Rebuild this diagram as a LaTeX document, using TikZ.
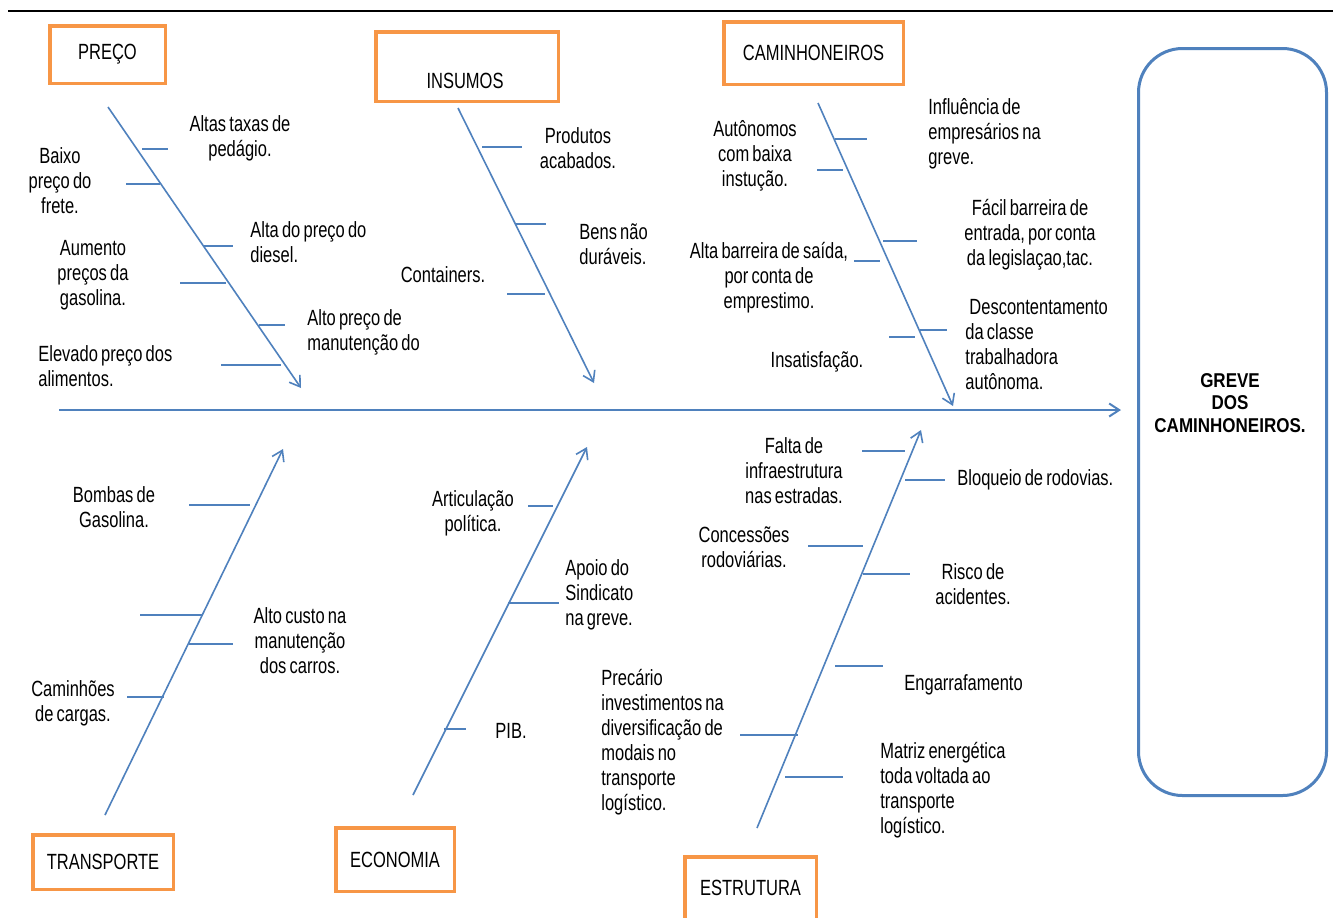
\documentclass[tikz,border=0pt]{standalone}
\usepackage{fontspec}
\setmainfont{Liberation Sans}[FakeStretch=0.75,WordSpace=0.7]
\newfontfamily\grevefont{Liberation Sans}[FakeStretch=0.85]
\usetikzlibrary{arrows.meta}
\definecolor{catorange}{HTML}{F79646}
\definecolor{boneblue}{HTML}{4F81BD}
\newcommand\lblfont{\fontsize{11}{12.5}\selectfont}
\begin{document}
\begin{tikzpicture}[x=0.5pt, y=-0.5pt,
  catbox/.style={draw=catorange, line width=1.75pt, inner sep=0pt, font=\lblfont},
  bonearrow/.style={draw=boneblue, line width=0.8pt, -{Straight Barb[length=5pt,width=6.5pt]}},
  spine/.style={draw=boneblue, line width=1pt, -{Straight Barb[length=5pt,width=6.5pt]}},
  tickline/.style={draw=boneblue, line width=1pt},
  lblc/.style={font=\lblfont, align=center, inner sep=0pt, yshift=-1.25pt},
  lbll/.style={font=\lblfont, align=left, inner sep=0pt, anchor=west, yshift=-1.25pt}]
\useasboundingbox (0,0) rectangle (1333,917);
\fill[white] (0,0) rectangle (1333,917);
\clip (0,0) rectangle (1333,917);
% top rule
\coordinate (topA) at (8,11); \coordinate (topB) at (1333,11);
\draw[black, line width=0.7pt] (topA) -- (topB);
% category boxes
\node[catbox, minimum width=57.75pt, minimum height=28.75pt] (preco) at (107.5,54.5) {\raisebox{-1pt}{PREÇO}};
\node[catbox, minimum width=91.25pt, minimum height=34.75pt] (insumos) at (467,66.5) {};
\node[lblc] (insumosT) at (465,78) {INSUMOS};
\node[catbox, minimum width=89.75pt, minimum height=31.25pt] (caminh) at (813.5,53) {CAMINHONEIROS};
\node[catbox, minimum width=70.25pt, minimum height=27.25pt] (transp) at (103,862) {TRANSPORTE};
\node[catbox, minimum width=59.25pt, minimum height=31.75pt] (econ) at (395,859.5) {ECONOMIA};
\node[catbox, minimum width=65.75pt, minimum height=31.25pt] (estr) at (750.5,888) {ESTRUTURA};
% effect box
\node[draw=boneblue, line width=1.5pt, rounded corners=22pt, minimum width=94pt, minimum height=373.5pt, inner sep=0pt] (greve) at (1232.5,422) {};
\node[font=\grevefont\bfseries\fontsize{10}{11.25}\selectfont, align=center, inner sep=0pt] (greveT) at (1230,403) {GREVE\\DOS\\CAMINHONEIROS.};
% spine
\coordinate (sA) at (59,410); \coordinate (sB) at (1121,410);
\draw[spine] (sA) -- (sB);
% bones
\coordinate (pA) at (108,107); \coordinate (pB) at (301,388);
\coordinate (iA) at (458,108); \coordinate (iB) at (594,383);
\coordinate (cA) at (818,103); \coordinate (cB) at (953,406);
\coordinate (trA) at (105,815); \coordinate (trB) at (283,449);
\coordinate (eA) at (413,795); \coordinate (eB) at (587,447);
\coordinate (esA) at (757,828); \coordinate (esB) at (921,430);
\draw[bonearrow] (pA) -- (pB);
\draw[bonearrow] (iA) -- (iB);
\draw[bonearrow] (cA) -- (cB);
\draw[bonearrow] (trA) -- (trB);
\draw[bonearrow] (eA) -- (eB);
\draw[bonearrow] (esA) -- (esB);
% ticks
\foreach \n/\xa/\xb/\yy in {
  1/142/168/149, 2/126/160/184, 3/204/233/246, 4/180/226/283, 5/259/285/325, 6/221/281/365,
  7/482/522/147, 8/516/546/224, 9/507/545/294,
  10/835/867/139, 11/817/843/170, 12/883/917/241, 13/854/880/261, 14/920/947/330, 15/889/915/337,
  16/189/250/505, 17/140/202/615, 18/189/233/644, 19/127/164/697,
  20/528/553/506, 21/508/559/603, 22/444/466/729,
  23/862/905/451, 24/905/945/480, 25/808/863/546, 26/863/910/574, 27/835/883/666, 28/740/798/735, 29/785/843/777}{
  \coordinate (t\n a) at (\xa,\yy);
  \coordinate (t\n b) at (\xb,\yy);
  \draw[tickline] (t\n a) -- (t\n b);
}
% labels PRECO
\node[lblc] (l1) at (240,136) {Altas taxas de\\pedágio.};
\node[lblc] (l2) at (60,178) {Baixo\\preço do\\frete.};
\node[lbll] (l3) at (250,240) {Alta do preço do\\diesel.};
\node[lblc] (l4) at (93,273) {Aumento\\preços da\\gasolina.};
\node[lbll] (l5) at (307,330) {Alto preço de\\manutenção do};
\node[lbll] (l6) at (38,364) {Elevado preço dos\\alimentos.};
% labels INSUMOS
\node[lblc] (l7) at (578,145.5) {Produtos\\acabados.};
\node[lbll] (l8) at (579,241.5) {Bens não\\duráveis.};
\node[lblc] (l9) at (443,272) {Containers.};
% labels CAMINHONEIROS
\node[lbll] (l10) at (928,131) {Influência de\\empresários na\\greve.};
\node[lblc] (l11) at (755,153) {Autônomos\\com baixa\\instução.};
\node[lblc] (l12) at (1030,232) {Fácil barreira de\\entrada, por conta\\da legislaçao,tac.};
\node[lblc] (l13) at (769,275) {Alta barreira de saída,\\por conta de\\emprestimo.};
\node[lbll] (l14) at (965,342.5) {\hspace*{2pt}Descontentamento\\da classe\\trabalhadora\\autônoma.};
\node[lblc] (l15) at (817,359) {Insatisfação.};
% labels TRANSPORTE
\node[lblc] (l16) at (114,504.5) {Bombas de\\Gasolina.};
\node[lblc] (l17) at (300,638) {Alto custo na\\manutenção\\dos carros.};
\node[lblc] (l18) at (73,700.5) {Caminhões\\de cargas.};
% labels ECONOMIA
\node[lblc] (l19) at (473,510.5) {Articulação\\política.};
\node[lbll] (l20) at (565,592) {Apoio do\\Sindicato\\na greve.};
\node[lblc] (l21) at (511,728) {PIB.};
% labels ESTRUTURA
\node[lblc] (l22) at (794,468) {Falta de\\infraestrutura\\nas estradas.};
\node[lbll] (l23) at (957,477) {Bloqueio de rodovias.};
\node[lblc] (l24) at (744,545) {Concessões\\rodoviárias.};
\node[lblc] (l25) at (973,581.5) {Risco de\\acidentes.};
\node[lbll] (l26) at (904,682) {Engarrafamento};
\node[lbll] (l27) at (601,740) {Precário\\investimentos na\\diversificação de\\modais no\\transporte\\logístico.};
\node[lbll] (l28) at (880,787.5) {Matriz energética\\toda voltada ao\\transporte\\logístico.};
\end{tikzpicture}
\end{document}
